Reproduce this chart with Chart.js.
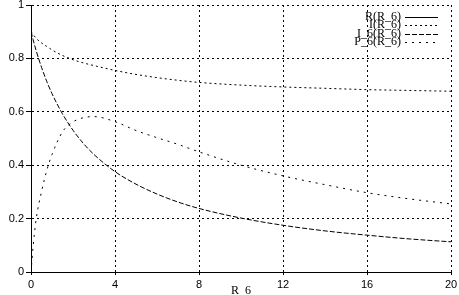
<!DOCTYPE html>
<html>
<head>
<meta charset="utf-8">
<script src="https://cdn.jsdelivr.net/npm/chart.js@4/dist/chart.umd.min.js"></script>
<style>
  body { margin: 0; background: #fff; }
  canvas { display: block; }
</style>
</head>
<body>
<canvas id="plot" width="459" height="295"></canvas>
<script>
// values
const xs = [0, 0.1, 0.25, 0.5, 0.75, 1, 1.5, 2, 2.5, 3, 4, 5, 6, 7, 8, 10, 12, 14, 16, 18, 20];
const rVals = []; // R(R_6) stays out of the 0..1 window
const iVals = [0.9, 0.89, 0.875, 0.858, 0.845, 0.832, 0.811, 0.795, 0.783, 0.773, 0.755, 0.74, 0.728, 0.718, 0.71, 0.7, 0.693, 0.688, 0.683, 0.68, 0.677];
const i6Vals = [0.9, 0.87, 0.828, 0.767, 0.714, 0.668, 0.592, 0.531, 0.481, 0.44, 0.376, 0.329, 0.292, 0.262, 0.238, 0.202, 0.175, 0.154, 0.138, 0.124, 0.113];
const p6Vals = [0, 0.095, 0.2, 0.3, 0.38, 0.44, 0.525, 0.562, 0.578, 0.582, 0.563, 0.53, 0.503, 0.478, 0.45, 0.4, 0.36, 0.327, 0.297, 0.274, 0.255];
const seriesNames = ["R(R_6)", "I(R_6)", "I_6(R_6)", "P_6(R_6)"];
const xTitle = "R_6";

function pts(vals) {
  return vals.map((v, i) => ({ x: xs[i], y: v }));
}

function line(label, vals, dash) {
  return {
    label: label,
    data: pts(vals),
    borderColor: "#000",
    borderWidth: 1,
    borderDash: dash,
    pointRadius: 0,
    fill: false,
    cubicInterpolationMode: "monotone",
  };
}

// legend drawn like the original: text right aligned, sample to the right
const sideLegend = {
  id: "sideLegend",
  afterDraw(chart) {
    const ctx = chart.ctx;
    ctx.save();
    ctx.font = "12px 'Liberation Serif'";
    ctx.fillStyle = "#000";
    ctx.textAlign = "right";
    ctx.textBaseline = "middle";
    chart.data.datasets.forEach((ds, i) => {
      const y = 16.5 + i * 8.5;
      ctx.fillText(ds.label, 401, y);
      ctx.strokeStyle = "#000";
      ctx.lineWidth = 1;
      ctx.setLineDash(ds.borderDash || []);
      ctx.beginPath();
      ctx.moveTo(405, Math.round(y) + 0.5);
      ctx.lineTo(438, Math.round(y) + 0.5);
      ctx.stroke();
    });
    ctx.restore();
  },
};

const ctx = document.getElementById("plot").getContext("2d");
new Chart(ctx, {
  type: "line",
  data: {
    datasets: [
      line(seriesNames[0], rVals, []),
      line(seriesNames[1], iVals, [2, 3]),
      line(seriesNames[2], i6Vals, [5, 2]),
      line(seriesNames[3], p6Vals, [2, 5]),
    ],
  },
  options: {
    responsive: false,
    animation: false,
    layout: { padding: { top: 5, right: 8, left: 0, bottom: 0 } },
    plugins: {
      legend: { display: false },
      tooltip: { enabled: false },
    },
    scales: {
      x: {
        type: "linear",
        min: 0,
        max: 20,
        ticks: {
          stepSize: 4,
          color: "#000",
          padding: 3,
          font: { family: "'Liberation Sans'", size: 11 },
          maxRotation: 0,
        },
        grid: { color: "#000", tickLength: 3, tickColor: "#000" },
        border: { color: "#000", width: 1, dash: [2, 3] },
        title: {
          display: true,
          text: xTitle,
          color: "#000",
          font: { family: "'Liberation Serif'", size: 12 },
          padding: { top: 0, bottom: -3 },
        },
        afterFit(scale) {
          scale.height = 23;
          scale.paddingLeft = 0;
          scale.paddingRight = 0;
        },
      },
      y: {
        min: 0,
        max: 1,
        ticks: {
          stepSize: 0.2,
          color: "#000",
          padding: 2,
          font: { family: "'Liberation Sans'", size: 11 },
          callback: (v) => String(+v.toFixed(1)),
        },
        grid: { color: "#000", tickLength: 5, tickColor: "#000" },
        border: { color: "#000", width: 1, dash: [2, 3] },
        afterFit(scale) {
          scale.width = 31;
          scale.paddingTop = 0;
          scale.paddingBottom = 0;
        },
      },
    },
  },
  plugins: [sideLegend],
});
</script>
</body>
</html>
